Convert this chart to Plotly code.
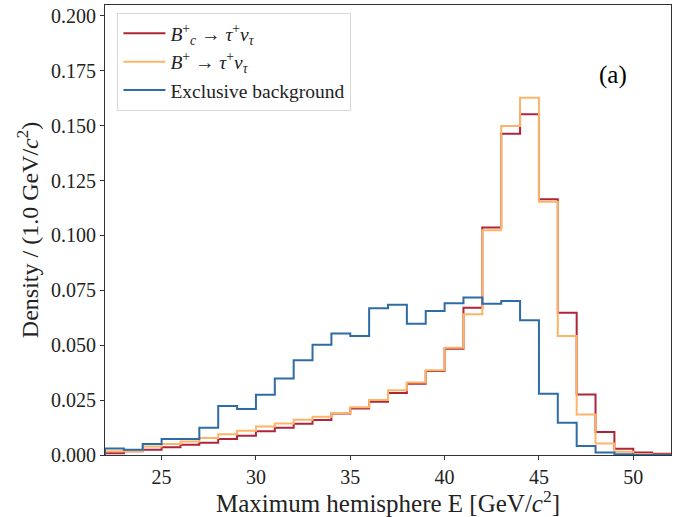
import plotly.graph_objects as go

# bin edges 22..52, width 1 GeV
bin_edges = list(range(22, 53))

bc_tau_nu = [0.0008, 0.0017, 0.0024, 0.0035, 0.0047, 0.0056, 0.0073, 0.0088, 0.0108, 0.0124,
             0.0142, 0.0159, 0.0189, 0.0212, 0.0243, 0.0282, 0.0325, 0.0383, 0.0484, 0.0671,
             0.1036, 0.1464, 0.1552, 0.1165, 0.0648, 0.0276, 0.0105, 0.0029, 0.0011, 0.0006]

bu_tau_nu = [0.0017, 0.0017, 0.0039, 0.0050, 0.0061, 0.0077, 0.0095, 0.0111, 0.0130, 0.0144,
             0.0161, 0.0174, 0.0191, 0.0217, 0.0250, 0.0295, 0.0330, 0.0386, 0.0489, 0.0641,
             0.1024, 0.1499, 0.1628, 0.1154, 0.0542, 0.0185, 0.0052, 0.0015, 0.0003, 0.0001]

exclusive_bkg = [0.0030, 0.0024, 0.0050, 0.0073, 0.0073, 0.0124, 0.0223, 0.0209, 0.0274, 0.0348,
                 0.0432, 0.0502, 0.0553, 0.0542, 0.0668, 0.0685, 0.0598, 0.0656, 0.0691, 0.0717,
                 0.0689, 0.0702, 0.0614, 0.0279, 0.0147, 0.0041, 0.0011, 0.0003, 0.0, 0.0]

x_ticks = [25, 30, 35, 40, 45, 50]
y_ticks = [0.000, 0.025, 0.050, 0.075, 0.100, 0.125, 0.150, 0.175, 0.200]

series = [
    ("<i>B</i><sup>+</sup><sub><i>c</i></sub> → <i>τ</i><sup>+</sup><i>ν</i><sub><i>τ</i></sub>", bc_tau_nu, "#b0243a"),
    ("<i>B</i><sup>+</sup> → <i>τ</i><sup>+</sup><i>ν</i><sub><i>τ</i></sub>", bu_tau_nu, "#fcb468"),
    ("Exclusive background", exclusive_bkg, "#2e6ca8"),
]

FONT = "Liberation Serif"

fig = go.Figure()
for i, (name, vals, col) in enumerate(series):
    xs = [bin_edges[0]] + bin_edges[:-1] + [bin_edges[-1]]
    ys = [0] + list(vals) + [0]
    fig.add_trace(go.Scatter(x=xs, y=ys, mode="lines", name=name,
                             line=dict(color=col, width=2, shape="hv")))

fig.add_annotation(x=48.9, y=0.173, text="(a)", showarrow=False,
                   font=dict(family=FONT, size=25, color="black"))

axis_common = dict(showgrid=False, zeroline=False, showline=True, linecolor="#333333",
                   linewidth=1, mirror=True, ticks="outside", ticklen=4, tickwidth=1,
                   tickcolor="#333333", tickfont=dict(family=FONT, size=20, color="#222222"))

fig.update_layout(
    width=673, height=517,
    margin=dict(l=105, r=2, t=5, b=62),
    paper_bgcolor="white", plot_bgcolor="white",
    showlegend=True,
    legend=dict(x=0.022, y=0.982, xanchor="left", yanchor="top",
                bgcolor="rgba(255,255,255,0.9)", bordercolor="#d8d8d8", borderwidth=1,
                font=dict(family=FONT, size=19.5, color="#222222"),
                itemwidth=42),
    xaxis=dict(range=[22, 52], tickvals=x_ticks,
               title=dict(text="Maximum hemisphere E [GeV/<i>c</i><sup>2</sup>]",
                          font=dict(family=FONT, size=25, color="#222222"), standoff=0),
               **axis_common),
    yaxis=dict(range=[0, 0.205], tickvals=y_ticks, tickformat=".3f",
               title=dict(text="Density / (1.0 GeV/<i>c</i><sup>2</sup>)",
                          font=dict(family=FONT, size=24, color="#222222"), standoff=5),
               **axis_common),
)

fig.write_html("out.html", config={"displayModeBar": False},
               post_script="document.body.style.margin='0';document.body.style.overflow='hidden';")
